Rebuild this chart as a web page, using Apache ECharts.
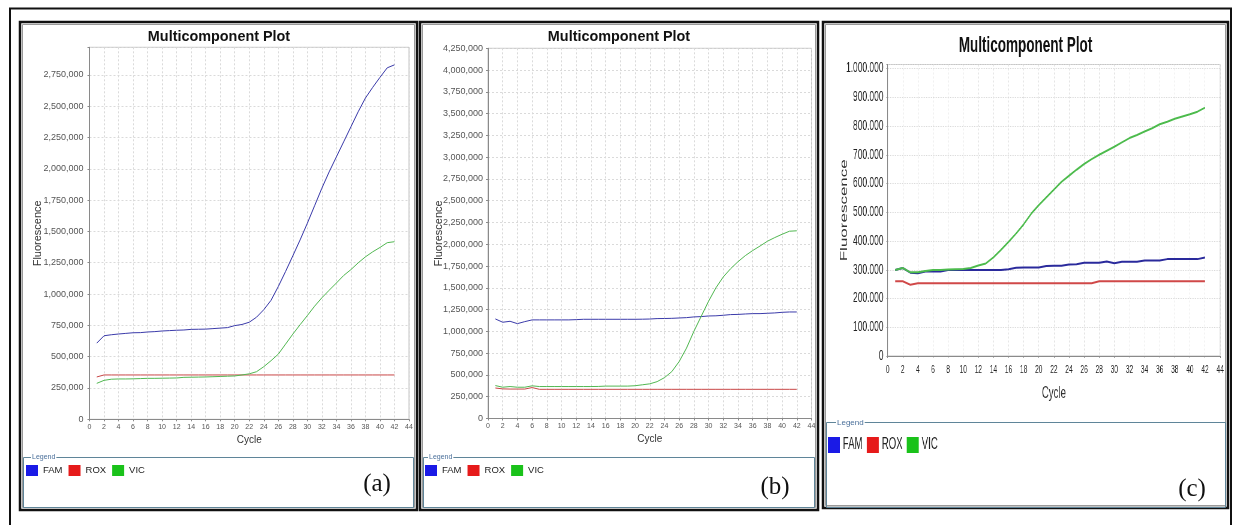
<!DOCTYPE html>
<html><head><meta charset="utf-8">
<script src="https://cdn.jsdelivr.net/npm/echarts@6/dist/echarts.min.js"></script>
<style>
html,body{margin:0;padding:0;background:#fff;width:1233px;height:525px;overflow:hidden;}
#pa{position:absolute;left:20px;top:22px;width:398px;height:488px;}
#pb{position:absolute;left:420px;top:22px;width:398px;height:488px;}
#pc{position:absolute;left:823px;top:22px;width:675px;height:486px;transform:scaleX(0.6);transform-origin:0 0;}
#ov{position:absolute;left:0;top:0;width:1233px;height:525px;pointer-events:none;}
</style></head><body>
<div id="pa"></div><div id="pb"></div><div id="pc"></div><div id="ov"></div>
<script>
// ---- data ----
const cycles = [1,2,3,4,5,6,7,8,9,10,11,12,13,14,15,16,17,18,19,20,21,22,23,24,25,26,27,28,29,30,31,32,33,34,35,36,37,38,39,40,41,42];
const seriesNames = ['FAM','ROX','VIC'];
const panelLabels = ['(a)','(b)','(c)'];
const xTicksStep = 2;

const famA = [608000,667000,675000,681000,686000,691000,692000,697000,700000,705000,708000,711000,713000,718000,719000,720000,724000,728000,732000,748000,757000,775000,815000,875000,950000,1060000,1180000,1305000,1432000,1565000,1705000,1845000,1975000,2095000,2215000,2335000,2455000,2565000,2650000,2730000,2806000,2830000];
const roxA = [338000,354000,354000,354000,354000,354000,354000,354000,354000,354000,354000,354000,354000,354000,354000,354000,354000,354000,354000,354000,354000,354000,354000,354000,354000,354000,354000,354000,354000,354000,354000,354000,354000,354000,354000,354000,354000,354000,354000,354000,354000,354000];
const vicA = [287000,311000,320000,322000,322000,323000,325000,327000,327000,328000,329000,330000,335000,336000,337000,338000,340000,342000,344000,346000,354000,363000,380000,420000,468000,520000,600000,680000,755000,828000,903000,970000,1030000,1088000,1148000,1195000,1249000,1297000,1337000,1372000,1410000,1418000];

const famB = [1143000,1105000,1116000,1089000,1112000,1132000,1132000,1132000,1132000,1132000,1132000,1135000,1139000,1139000,1139000,1139000,1139000,1139000,1139000,1139000,1140000,1142000,1147000,1148000,1150000,1154000,1158000,1166000,1170000,1177000,1179000,1185000,1193000,1195000,1200000,1204000,1204000,1208000,1212000,1219000,1223000,1223000];
const roxB = [350000,340000,338000,338000,338000,355000,335000,335000,335000,335000,335000,335000,335000,335000,335000,335000,335000,335000,335000,335000,335000,335000,335000,335000,335000,335000,335000,335000,335000,335000,335000,335000,335000,335000,335000,335000,335000,335000,335000,335000,335000,335000];
const vicB = [378000,359000,367000,359000,359000,375000,367000,367000,367000,367000,367000,367000,367000,367000,368000,372000,372000,372000,372000,376000,387000,398000,423000,469000,538000,654000,808000,1000000,1173000,1346000,1500000,1625000,1720000,1800000,1870000,1928000,1980000,2035000,2077000,2115000,2150000,2155000];

const famC = [299000,306000,290000,288000,294000,294000,294000,299000,299000,300000,299000,299000,299000,299000,299000,302000,307000,308000,308000,308000,313000,314000,314000,318000,319000,324000,324000,324000,329000,323000,328000,328000,328000,332000,332000,332000,337000,337000,337000,337000,337000,343000];
const roxC = [260000,260000,248000,253000,253000,253000,253000,253000,253000,253000,253000,253000,253000,253000,253000,253000,253000,253000,253000,253000,253000,253000,253000,253000,253000,253000,253000,260000,260000,260000,260000,260000,260000,260000,260000,260000,260000,260000,260000,260000,260000,260000];
const vicC = [299000,306000,291000,291000,296000,299000,299000,301000,302000,303000,306000,315000,322000,343000,369000,397000,426000,458000,495000,525000,552000,579000,606000,627000,648000,668000,685000,700000,714000,728000,743000,758000,769000,781000,792000,806000,815000,825000,833000,841000,850000,864000];

const yStepAB = 250000;
const yStepC = 100000;

// ---- helpers ----
const FONT = 'Liberation Sans, Arial, Helvetica, sans-serif';
function pairs(vals){ return cycles.map((c,i)=>[c, vals[i]]); }
function fmt(v, sep){ return String(v).replace(/\B(?=(\d{3})+(?!\d))/g, sep); }

function panel(cfg){
  const mk = (name, vals, idx) => ({
    name: name, type:'line', data: pairs(vals), showSymbol:false, symbol:'none',
    lineStyle:{color: cfg.lineColors[idx], width: cfg.lw},
    itemStyle:{color: cfg.iconColors[idx]},
    emphasis:{disabled:true}, silent:true, z: 2+idx
  });
  return {
    animation:false,
    backgroundColor:'#ffffff',
    title:{text:'Multicomponent Plot', left:'center', top:cfg.titleTop,
      textStyle:{fontSize:cfg.titleSize, fontWeight:'bold', color:'#111', fontFamily:FONT}},
    grid:{left:cfg.grid[0], top:cfg.grid[1], width:cfg.grid[2], height:cfg.grid[3],
      show:true, borderColor:'#c4c4c4', borderWidth:1, backgroundColor:'#fff',
      containLabel:false, outerBoundsMode:'none'},
    legend:{left:cfg.leg[0], top:cfg.leg[1], itemWidth:cfg.leg[2], itemHeight:cfg.leg[3], itemGap:cfg.leg[4],
      icon:'rect', selectedMode:false, padding:0,
      itemStyle:{borderWidth:0},
      textStyle:{fontSize:cfg.leg[5], color:'#222', fontFamily:FONT},
      data: seriesNames.map((n,i)=>({name:n, itemStyle:{color:cfg.iconColors[i], borderWidth:0}}))},
    xAxis:{type:'value', min:0, max:44, interval:xTicksStep,
      name:'Cycle', nameLocation:'middle', nameGap:cfg.xNameGap, nameMoveOverlap:false,
      nameTextStyle:{fontSize:cfg.xNameSize, color:'#333', fontFamily:FONT},
      axisLine:{show:true, onZero:false, lineStyle:{color:'#8a8a8a', width:1}},
      axisTick:{show:true, length:2, lineStyle:{color:'#8a8a8a'}},
      axisLabel:{fontSize:cfg.xLabSize, color:cfg.labColor, margin:cfg.xLabMargin, fontFamily:FONT,
        formatter: v => (v % xTicksStep === 0 ? String(v) : '')},
      splitLine:{show:true, lineStyle:{color:'#dadada', type:[2,2], width:1}}},
    yAxis:{type:'value', min:0, max:cfg.yMax, interval:cfg.yStep,
      name:'Fluorescence', nameLocation:'middle', nameRotate:90, nameGap:cfg.yNameGap, nameMoveOverlap:false,
      nameTextStyle:{fontSize:cfg.yNameSize, color:'#333', fontFamily:FONT},
      axisLine:{show:true, lineStyle:{color:'#8a8a8a', width:1}},
      axisTick:{show:true, length:2, lineStyle:{color:'#8a8a8a'}},
      axisLabel:{fontSize:cfg.yLabSize, color:cfg.labColor, margin:cfg.yLabMargin, fontFamily:FONT,
        formatter: v => (v % cfg.yStep === 0 ? fmt(v, cfg.sep) : '')},
      splitLine:{show:true, lineStyle:{color:'#dadada', type:[2,2], width:1}}},
    series:[mk('FAM', cfg.fam, 0), mk('ROX', cfg.rox, 1), mk('VIC', cfg.vic, 2)]
  };
}

const lineAB = ['#3b3baa','#c84646','#52b852'];
const iconAB = ['#1a1ae6','#e61a1a','#1ac21a'];

const chA = echarts.init(document.getElementById('pa'));
chA.setOption(panel({
  titleTop:3, titleSize:14.4, grid:[69.5,25.3,319.5,372],
  leg:[6,443,12,11,6,9.5],
  xNameGap:16, xNameSize:10, xLabSize:7, xLabMargin:4,
  yMax:2970000, yStep:yStepAB, yNameGap:46, yNameSize:11, yLabSize:9, yLabMargin:6, sep:',',
  labColor:'#555', lw:1, lineColors:lineAB, iconColors:iconAB,
  fam:famA, rox:roxA, vic:vicA
}));

const chB = echarts.init(document.getElementById('pb'));
chB.setOption(panel({
  titleTop:3, titleSize:14.4, grid:[68,26.3,323.5,370.2],
  leg:[5,443,12,11,6,9.5],
  xNameGap:16, xNameSize:10, xLabSize:7, xLabMargin:4,
  yMax:4250000, yStep:yStepAB, yNameGap:44, yNameSize:11, yLabSize:9, yLabMargin:5, sep:',',
  labColor:'#555', lw:1, lineColors:lineAB, iconColors:iconAB,
  fam:famB, rox:roxB, vic:vicB
}));

const chC = echarts.init(document.getElementById('pc'));
chC.setOption(panel({
  titleTop:7, titleSize:22.5, grid:[107.7,42.5,554.2,291.5],
  leg:[8,415,20,16,7,16],
  xNameGap:30, xNameSize:16, xLabSize:11, xLabMargin:8,
  yMax:1014000, yStep:yStepC, yNameGap:64, yNameSize:17, yLabSize:14, yLabMargin:7, sep:'.',
  labColor:'#222', lw:2, lineColors:['#2a2a9c','#d04848','#4cbb4c'], iconColors:['#1a1ae6','#e61a1a','#1ac21a'],
  fam:famC, rox:roxC, vic:vicC
}));

// ---- overlay: frames, legend boxes, panel labels ----
const ov = echarts.init(document.getElementById('ov'));
function frame(x,y,w,h){
  return [
    {type:'rect', shape:{x:x,y:y,width:w,height:h}, style:{fill:'none', stroke:'#111', lineWidth:2.5}},
    {type:'rect', shape:{x:x+2.5,y:y+2.5,width:w-5,height:h-5}, style:{fill:'none', stroke:'#9a9a9a', lineWidth:1}}
  ];
}
function legBox(x,y,w,h,tx,fs){
  return [
    {type:'rect', shape:{x:x,y:y,width:w,height:h}, style:{fill:'none', stroke:'#5f8599', lineWidth:1}},
    {type:'text', style:{text:'Legend', x:tx, y:y, fontSize:fs, fontFamily:FONT, fill:'#4a6f9a',
      verticalAlign:'middle', textVerticalAlign:'middle', backgroundColor:'#fff', padding:[0,1]}}
  ];
}
function lab(t,x,y){
  return {type:'text', style:{text:t, x:x, y:y, fontSize:25, fontFamily:'Liberation Serif, Times New Roman, serif',
    fill:'#111', align:'center', textAlign:'center', verticalAlign:'middle', textVerticalAlign:'middle'}};
}
ov.setOption({
  animation:false,
  graphic:[].concat(
    [{type:'rect', shape:{x:10,y:8.5,width:1221,height:530}, style:{fill:'none', stroke:'#111', lineWidth:2}}],
    frame(20,22,397,488), frame(420,22,398,488), frame(823,22,405,486),
    legBox(23.5,457.5,390,50,31,7), legBox(423.5,457.5,391,50,428,7), legBox(826.5,422.5,399,85,836,8),
    [lab(panelLabels[0],377,484), lab(panelLabels[1],775,487), lab(panelLabels[2],1192,489)]
  )
});
</script>
</body></html>
